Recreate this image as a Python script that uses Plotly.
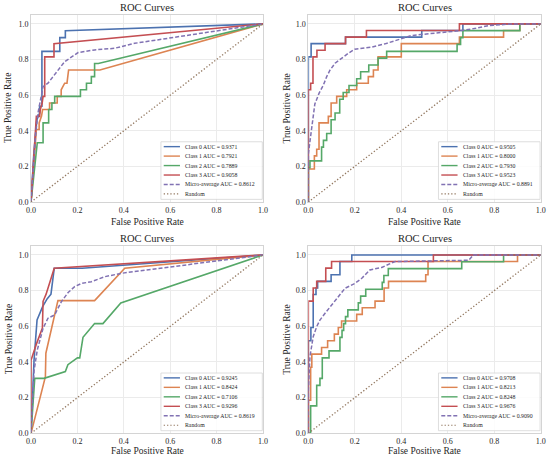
import plotly.graph_objects as go
from plotly.subplots import make_subplots

# top left panel
fpr_a0 = [0, 0.012, 0.025, 0.037, 0.037, 0.047, 0.047, 0.124, 0.124, 0.148, 0.148, 1.0]
tpr_a0 = [0, 0.27, 0.46, 0.50, 0.538, 0.538, 0.846, 0.846, 0.923, 0.923, 0.962, 1.0]
fpr_a1 = [0, 0.023, 0.035, 0.035, 0.045, 0.05, 0.08, 0.08, 0.113, 0.113, 0.13, 0.13, 0.145, 0.155, 0.162, 0.297, 1.0]
tpr_a1 = [0, 0.407, 0.407, 0.444, 0.481, 0.519, 0.519, 0.556, 0.556, 0.593, 0.593, 0.63, 0.667, 0.667, 0.741, 0.741, 1.0]
fpr_a2 = [0, 0.027, 0.052, 0.052, 0.076, 0.076, 0.09, 0.09, 0.102, 0.102, 0.213, 0.213, 0.239, 0.239, 0.26, 0.26, 0.274, 0.274, 0.29, 1.0]
tpr_a2 = [0, 0.333, 0.333, 0.444, 0.444, 0.519, 0.519, 0.556, 0.556, 0.593, 0.593, 0.63, 0.63, 0.667, 0.667, 0.704, 0.704, 0.778, 0.778, 1.0]
fpr_a3 = [0, 0.015, 0.023, 0.037, 0.04, 0.048, 0.052, 0.059, 0.059, 0.099, 0.099, 1.0]
tpr_a3 = [0, 0.3, 0.481, 0.481, 0.519, 0.556, 0.593, 0.593, 0.815, 0.815, 0.889, 1.0]
fpr_am = [0, 0.01, 0.02, 0.03, 0.045, 0.052, 0.073, 0.095, 0.116, 0.145, 0.167, 0.203, 0.274, 0.36, 0.447, 0.6, 0.75, 0.9, 1.0]
tpr_am = [0, 0.2, 0.38, 0.5, 0.59, 0.648, 0.667, 0.704, 0.74, 0.788, 0.807, 0.839, 0.854, 0.863, 0.891, 0.92, 0.95, 0.98, 1.0]
auc_a = [0.9371, 0.7921, 0.7889, 0.9058, 0.8612]

# top right panel (step corners)
fpr_b0 = [0, 0, 0.012, 0.16, 0.488, 0.665, 1.0]
tpr_b0 = [0, 0.815, 0.889, 0.926, 0.963, 1.0, 1.0]
fpr_b1 = [0, 0, 0.026, 0.036, 0.046, 0.086, 0.098, 0.122, 0.165, 0.208, 0.258, 0.28, 0.3, 0.4, 0.65, 0.84, 0.91, 1.0]
tpr_b1 = [0, 0.185, 0.259, 0.296, 0.444, 0.481, 0.556, 0.593, 0.63, 0.667, 0.704, 0.741, 0.815, 0.889, 0.926, 0.963, 1.0, 1.0]
fpr_b2 = [0, 0, 0.007, 0.057, 0.065, 0.079, 0.098, 0.115, 0.135, 0.15, 0.175, 0.208, 0.225, 0.26, 0.3, 0.337, 0.64, 0.655, 0.665, 0.91, 1.0]
tpr_b2 = [0, 0.192, 0.231, 0.308, 0.346, 0.385, 0.462, 0.5, 0.577, 0.615, 0.654, 0.692, 0.731, 0.769, 0.808, 0.846, 0.885, 0.923, 0.962, 1.0, 1.0]
fpr_b3 = [0, 0, 0.01, 0.02, 0.037, 0.072, 0.16, 0.25, 0.65, 1.0]
tpr_b3 = [0, 0.63, 0.667, 0.815, 0.852, 0.889, 0.926, 0.963, 1.0, 1.0]
fpr_bm = [0, 0, 0.017, 0.028, 0.046, 0.065, 0.079, 0.093, 0.115, 0.143, 0.172, 0.2, 0.27, 0.33, 0.387, 0.445, 0.52, 0.6, 0.66, 0.72, 0.775, 0.875, 1.0]
tpr_bm = [0, 0.27, 0.44, 0.55, 0.61, 0.657, 0.704, 0.74, 0.779, 0.807, 0.835, 0.858, 0.869, 0.888, 0.91, 0.935, 0.945, 0.955, 0.963, 0.975, 0.99, 1.0, 1.0]
auc_b = [0.9505, 0.8000, 0.7930, 0.9523, 0.8891]

# bottom left panel
fpr_c0 = [0, 0.013, 0.026, 0.05, 0.07, 0.086, 0.1, 0.22, 1.0]
tpr_c0 = [0, 0.41, 0.635, 0.71, 0.755, 0.78, 0.925, 0.925, 1.0]
fpr_c1 = [0, 0.062, 0.064, 0.116, 0.274, 0.404, 1.0]
tpr_c1 = [0, 0.318, 0.449, 0.744, 0.744, 0.925, 1.0]
fpr_c2 = [0, 0.016, 0.056, 0.148, 0.159, 0.2, 0.21, 0.224, 0.274, 0.31, 0.387, 1.0]
tpr_c2 = [0, 0.308, 0.308, 0.346, 0.385, 0.423, 0.423, 0.538, 0.615, 0.615, 0.731, 1.0]
fpr_c3 = [0, 0, 0.023, 0.037, 0.049, 0.052, 0.065, 0.1, 1.0]
tpr_c3 = [0, 0.41, 0.5, 0.55, 0.59, 0.74, 0.78, 0.925, 1.0]
fpr_cm = [0, 0.013, 0.027, 0.052, 0.073, 0.102, 0.131, 0.16, 0.188, 0.217, 0.26, 0.318, 0.39, 1.0]
tpr_cm = [0, 0.35, 0.467, 0.589, 0.645, 0.664, 0.738, 0.789, 0.822, 0.84, 0.85, 0.878, 0.897, 1.0]
auc_c = [0.9245, 0.8424, 0.7106, 0.9296, 0.8619]

# bottom right panel (step corners)
fpr_d0 = [0, 0, 0.011, 0.021, 0.033, 0.04, 0.098, 0.136, 0.187, 1.0]
tpr_d0 = [0, 0.519, 0.593, 0.778, 0.815, 0.852, 0.889, 0.963, 1.0, 1.0]
fpr_d1 = [0, 0, 0.01, 0.015, 0.057, 0.083, 0.112, 0.129, 0.143, 0.208, 0.232, 0.287, 0.326, 0.345, 0.505, 0.515, 0.9, 1.0]
tpr_d1 = [0, 0.185, 0.37, 0.444, 0.481, 0.519, 0.556, 0.593, 0.63, 0.667, 0.704, 0.741, 0.815, 0.852, 0.889, 0.963, 1.0, 1.0]
fpr_d2 = [0, 0.01, 0.036, 0.05, 0.06, 0.089, 0.136, 0.145, 0.152, 0.16, 0.17, 0.215, 0.225, 0.247, 0.318, 0.325, 0.344, 0.66, 0.84, 1.0]
tpr_d2 = [0, 0.154, 0.269, 0.308, 0.423, 0.462, 0.538, 0.577, 0.615, 0.654, 0.692, 0.731, 0.769, 0.808, 0.846, 0.885, 0.923, 0.962, 1.0, 1.0]
fpr_d3 = [0, 0, 0.021, 0.036, 0.075, 0.1, 0.538, 1.0]
tpr_d3 = [0, 0.741, 0.815, 0.852, 0.926, 0.963, 1.0, 1.0]
fpr_dm = [0, 0, 0.007, 0.021, 0.036, 0.05, 0.072, 0.1, 0.129, 0.158, 0.2, 0.23, 0.265, 0.316, 0.373, 0.5, 0.69, 0.71, 1.0]
tpr_dm = [0, 0.243, 0.43, 0.542, 0.598, 0.635, 0.673, 0.72, 0.766, 0.813, 0.84, 0.869, 0.916, 0.93, 0.963, 0.965, 0.97, 1.0, 1.0]
auc_d = [0.9708, 0.8213, 0.8248, 0.9676, 0.9090]

rand_x = [0, 1]
rand_y = [0, 1]
tick_vals = [0, 0.2, 0.4, 0.6, 0.8, 1.0]
tick_text = ['0.0', '0.2', '0.4', '0.6', '0.8', '1.0']
series_names = ['Class 0', 'Class 1', 'Class 2', 'Class 3', 'Micro-average']

colors = ['#4C72B0', '#DD8452', '#55A868', '#C44E52', '#8172B3']
rand_color = '#937860'
TEXT = '#262626'
FONT = 'Liberation Serif'
MICRO_DASH = '4px,2px'
RAND_DASH = '1.3px,2px'

panels = [
    ([fpr_a0, fpr_a1, fpr_a2, fpr_a3, fpr_am], [tpr_a0, tpr_a1, tpr_a2, tpr_a3, tpr_am], auc_a, 'linear'),
    ([fpr_b0, fpr_b1, fpr_b2, fpr_b3, fpr_bm], [tpr_b0, tpr_b1, tpr_b2, tpr_b3, tpr_bm], auc_b, 'hv'),
    ([fpr_c0, fpr_c1, fpr_c2, fpr_c3, fpr_cm], [tpr_c0, tpr_c1, tpr_c2, tpr_c3, tpr_cm], auc_c, 'linear'),
    ([fpr_d0, fpr_d1, fpr_d2, fpr_d3, fpr_dm], [tpr_d0, tpr_d1, tpr_d2, tpr_d3, tpr_dm], auc_d, 'hv'),
]

fig = make_subplots(rows=2, cols=2)

x_domains = [[0.0564, 0.4782], [0.5606, 0.9832]]
y_domains = [[0.5609, 0.9674], [0.0580, 0.4652]]
ytitle_x = [0.0155, 0.522]
xtitle_y = [0.5174, 0.0196]

for k, (fprs, tprs, aucs, shape) in enumerate(panels):
    row, col = k // 2 + 1, k % 2 + 1
    ax = '' if k == 0 else str(k + 1)
    labels = []
    for i in range(5):
        is_micro = i == 4
        dash = MICRO_DASH if is_micro else 'solid'
        fig.add_trace(go.Scatter(
            x=fprs[i], y=tprs[i], mode='lines',
            line=dict(color=colors[i], width=1.6 if not is_micro else 1.5,
                      dash=dash, shape='linear' if is_micro else shape),
            name=f'{series_names[i]} AUC = {aucs[i]:.4f}', showlegend=False),
            row=row, col=col)
        labels.append((f'{series_names[i]} AUC = {aucs[i]:.4f}', colors[i], dash))
    fig.add_trace(go.Scatter(x=rand_x, y=rand_y, mode='lines',
                             line=dict(color=rand_color, width=1.3, dash=RAND_DASH),
                             name='Random', showlegend=False), row=row, col=col)
    labels.append(('Random', rand_color, RAND_DASH))

    # compact legend box in the lower right corner
    xr, yr = f'x{ax} domain', f'y{ax} domain'
    fig.add_shape(type='rect', xref=xr, yref=yr, x0=0.56, x1=0.997, y0=0.014, y1=0.322,
                  fillcolor='rgba(255,255,255,0.85)', line=dict(color='#d6d6d6', width=0.8), layer='above')
    for j, (txt, c, d) in enumerate(labels):
        yy = 0.296 - j * 0.0506
        fig.add_shape(type='line', xref=xr, yref=yr, x0=0.572, x1=0.642, y0=yy, y1=yy,
                      line=dict(color=c, width=1.4 if d != RAND_DASH else 1.2, dash=d), layer='above')
        fig.add_annotation(xref=xr, yref=yr, x=0.657, y=yy, text=txt, showarrow=False,
                           xanchor='left', yanchor='middle',
                           font=dict(family=FONT, size=5.8, color=TEXT))

    xd = x_domains[col - 1]
    yd = y_domains[row - 1]
    fig.layout[f'xaxis{ax}'].domain = xd
    fig.layout[f'yaxis{ax}'].domain = yd
    xc = (xd[0] + xd[1]) / 2
    fig.add_annotation(xref='paper', yref='paper', x=xc, y=yd[1] + 0.0155,
                       text='ROC Curves', showarrow=False, xanchor='center', yanchor='middle',
                       font=dict(family=FONT, size=10.5, color=TEXT))
    fig.add_annotation(xref='paper', yref='paper', x=xc, y=xtitle_y[row - 1],
                       text='False Positive Rate', showarrow=False, xanchor='center', yanchor='middle',
                       font=dict(family=FONT, size=9.5, color=TEXT))
    fig.add_annotation(xref='paper', yref='paper', x=ytitle_x[col - 1], y=(yd[0] + yd[1]) / 2,
                       text='True Positive Rate', showarrow=False, textangle=-90,
                       xanchor='center', yanchor='middle',
                       font=dict(family=FONT, size=9.5, color=TEXT))

axis_style = dict(
    tickvals=tick_vals, ticktext=tick_text, ticks='', automargin=False,
    showgrid=True, gridcolor='#ebebeb', gridwidth=0.8,
    showline=True, linecolor='#d4d4d4', linewidth=1, mirror=True, zeroline=False,
    tickfont=dict(family=FONT, size=8, color=TEXT),
)
fig.update_xaxes(range=[0, 1], **axis_style)
fig.update_yaxes(range=[0, 1.05], **axis_style)

fig.update_layout(
    width=550, height=460, autosize=False,
    margin=dict(l=0, r=0, t=0, b=0),
    paper_bgcolor='white', plot_bgcolor='white',
    font=dict(family=FONT, color=TEXT),
)
# drop the default page margin so the 550x460 figure fills the window
fig.write_html('out.html', config={'displayModeBar': False},
               post_script="document.body.style.margin='0';")
